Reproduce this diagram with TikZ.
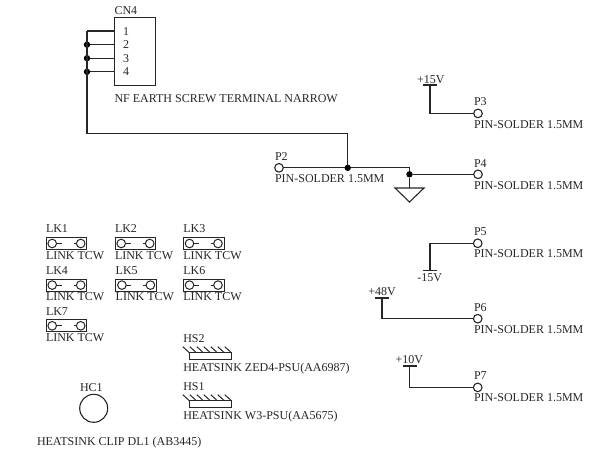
\documentclass[tikz,border=0pt]{standalone}
\usepackage{fontspec}
\setmainfont{Liberation Serif}
\usetikzlibrary{shapes.geometric}
\tikzset{
  x=1pt,y=-1pt,
  txt/.style={anchor=base west,inner sep=0pt,outer sep=0pt,font=\fontsize{12}{14}\selectfont,text=black!85},
  wire/.style={line width=1.2pt,black!85},
  thin wire/.style={line width=1pt,black!85},
  pad/.style={circle,draw=black!85,line width=1.1pt,minimum size=8.6pt,inner sep=0pt,outer sep=0pt},
  lkpad/.style={circle,draw=black!85,line width=1pt,minimum size=8.6pt,inner sep=0pt,outer sep=0pt},
  dot/.style={circle,fill=black,minimum size=6.4pt,inner sep=0pt,outer sep=0pt},
  boxshape/.style={draw=black!85,line width=1pt,inner sep=0pt,outer sep=0pt},
  gnd/.style={isosceles triangle,shape border rotate=-90,isosceles triangle stretches,draw=black!85,line width=1.1pt,minimum width=29pt,minimum height=14pt,inner sep=0pt,outer sep=0pt}
}
\begin{document}
\begin{tikzpicture}
\useasboundingbox (0,0) rectangle (607,453);
% CN4
\node[boxshape,minimum width=41.4pt,minimum height=68.3pt] (cn4) at (135,51.2) {};
\node[txt] (cn4l) at (114.5,14) {CN4};
\foreach \n/\y in {1/31,2/44.7,3/58.2,4/71.8}{
  \coordinate (j\n) at (87,\y);
  \coordinate (q\n) at (114.3,\y);
  \draw[wire] (j\n) -- (q\n);
  \node[txt] (num\n) at (123,\y+4) {\n};
}
\foreach \n in {2,3,4}{\node[dot] (jd\n) at (j\n) {};}
\node[txt] (cn4t) at (114.5,102.7) {NF EARTH SCREW TERMINAL NARROW};
\coordinate (corner1) at (87,133.5);
\coordinate (corner2) at (347.7,133.5);
\node[dot] (jp2) at (347.7,167.8) {};
\draw[wire] (j1) -- (corner1) -- (corner2) -- (jp2);
% P2 and ground
\node[pad] (p2) at (279,167.8) {};
\node[txt] (p2l) at (275,160) {P2};
\node[txt] (p2t) at (275,182) {PIN-SOLDER 1.5MM};
\coordinate (c3) at (409.5,167.8);
\node[dot] (jg) at (409.5,174.3) {};
\node[gnd,anchor=north] (g) at (409.5,188) {};
\draw[wire] (p2) -- (jp2) -- (c3) -- (jg) -- (g.north);
% P4
\node[pad] (p4) at (478,174.3) {};
\node[txt] (p4l) at (474,167) {P4};
\node[txt] (p4t) at (474,189) {PIN-SOLDER 1.5MM};
\draw[wire] (jg) -- (p4);
% P3
\node[pad] (p3) at (478,113.4) {};
\node[txt] (p3l) at (474,105.7) {P3};
\node[txt] (p3t) at (474,128) {PIN-SOLDER 1.5MM};
\coordinate (b3l) at (423,85); \coordinate (b3r) at (437,85); \coordinate (b3) at (430,85);
\draw[wire] (b3l) -- (b3r);
\draw[wire] (b3) |- (p3);
\node[txt] (v15) at (417,83) {+15V};
% P5
\node[pad] (p5) at (477.7,243.3) {};
\node[txt] (p5l) at (474,235) {P5};
\node[txt] (p5t) at (474,257.7) {PIN-SOLDER 1.5MM};
\coordinate (b5l) at (423,270.7); \coordinate (b5r) at (437,270.7); \coordinate (b5) at (430,270.7);
\draw[wire] (b5l) -- (b5r);
\draw[wire] (b5) |- (p5);
\node[txt] (vm15) at (417.3,281.7) {-15V};
% P6
\node[pad] (p6) at (477.7,318.7) {};
\node[txt] (p6l) at (474,311) {P6};
\node[txt] (p6t) at (474,333) {PIN-SOLDER 1.5MM};
\coordinate (b6l) at (375,298); \coordinate (b6r) at (389.3,298); \coordinate (b6) at (382,298);
\draw[wire] (b6l) -- (b6r);
\draw[wire] (b6) |- (p6);
\node[txt] (v48) at (368.3,295) {+48V};
% P7
\node[pad] (p7) at (477.7,387.4) {};
\node[txt] (p7l) at (474,379) {P7};
\node[txt] (p7t) at (474,401.7) {PIN-SOLDER 1.5MM};
\coordinate (b7l) at (402.7,366); \coordinate (b7r) at (417,366); \coordinate (b7) at (409.7,366);
\draw[wire] (b7l) -- (b7r);
\draw[wire] (b7) |- (p7);
\node[txt] (v10) at (395.7,363.7) {+10V};
% Links
\foreach \n/\x/\y in {1/46/232.7,2/115/232.7,3/183.3/232.7,4/46/274.3,5/115.7/274.3,6/183.3/274.3,7/46/315}{
  \node[txt] (lk\n) at (\x,\y) {LK\n};
  \node[boxshape,minimum width=40.7pt,minimum height=12pt,anchor=north west] (lkb\n) at (\x,\y+4.8) {};
  \node[lkpad] (lka\n) at (\x+6.2,\y+10.8) {};
  \node[lkpad] (lkc\n) at (\x+34.7,\y+10.8) {};
  \coordinate (sa\n) at (\x+15.7,\y+10.8);
  \coordinate (sc\n) at (\x+27.5,\y+10.8);
  \draw[thin wire] (lka\n) -- (sa\n);
  \draw[thin wire] (lkc\n) -- (sc\n);
  \node[txt] (lkt\n) at (\x,\y+26.4) {LINK TCW};
}
% Heatsinks
\node[txt] (hs2l) at (183.3,342.7) {HS2};
\node[boxshape,minimum width=42pt,minimum height=6.7pt,anchor=north west] (hs2) at (189.3,352.7) {};
\node[txt] (hs2t) at (183.3,371.7) {HEATSINK ZED4-PSU(AA6987)};
\node[txt] (hs1l) at (183.3,390.7) {HS1};
\node[boxshape,minimum width=42pt,minimum height=6.7pt,anchor=north west] (hs1) at (189.3,400.7) {};
\node[txt] (hs1t) at (183.3,419) {HEATSINK W3-PSU(AA5675)};
\foreach \h/\y in {hs2/352.7,hs1/400.7}{
  \foreach \k in {0,...,6}{
    \draw[thin wire] (189.3+\k*7,\y) -- ++(-6.5,-6);
  }
}
% Clip
\node[txt] (hc1l) at (80,391) {HC1};
\node[circle,draw=black!85,line width=1.1pt,minimum size=28pt,inner sep=0pt,outer sep=0pt] (hc1) at (93.7,408.3) {};
\node[txt] (hc1t) at (37,445) {HEATSINK CLIP DL1 (AB3445)};
\end{tikzpicture}
\end{document}
